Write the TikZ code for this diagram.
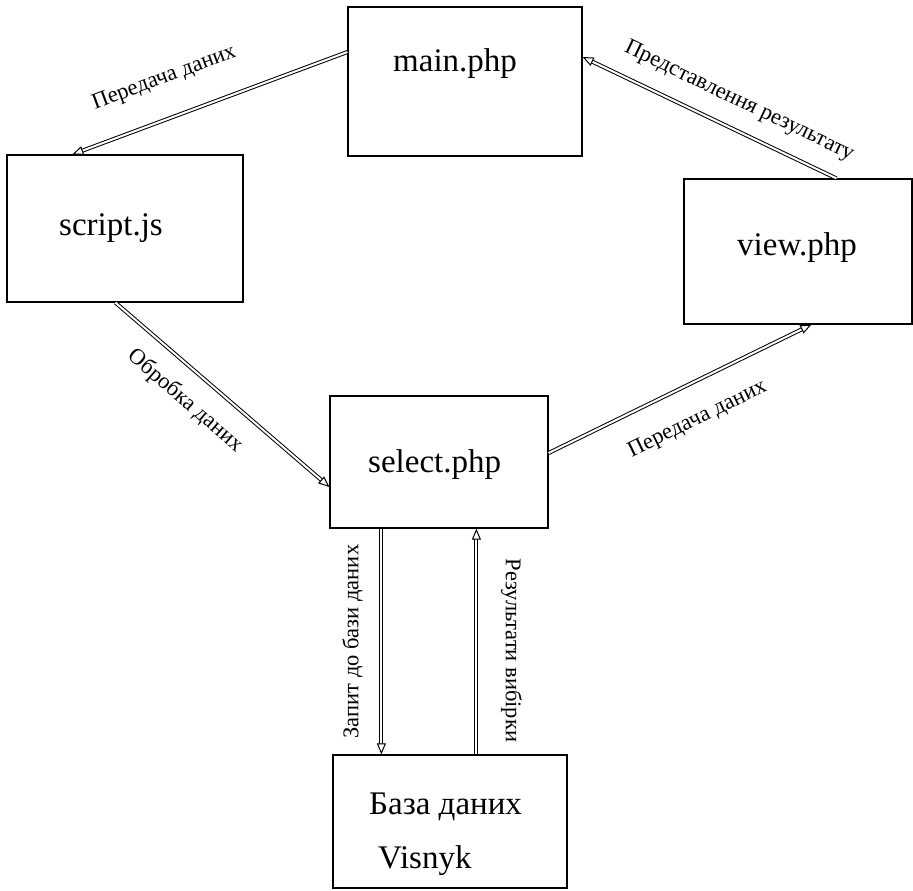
\documentclass[tikz,border=0pt]{standalone}
\usepackage{fontspec}
\setmainfont{Liberation Serif}
\usepackage{tikz}
\usetikzlibrary{arrows.meta,calc}

\tikzset{
	box/.style={draw, line width=1.2pt, rectangle, inner sep=0pt},
	boxtext/.style={anchor=base west, inner sep=0pt, font=\fontsize{33}{36}\selectfont},
	lbl/.style={inner sep=0pt, font=\fontsize{22.5}{25}\selectfont},
	flow/.style={double, double distance=2pt, line width=1pt, -{Triangle[open, length=11pt, width=9pt]}}
}

\begin{document}
\begin{tikzpicture}[x=1pt, y=-1pt]

	\useasboundingbox (0,0) rectangle (913,891);

	\node[box, minimum width=234pt, minimum height=149pt] (main) at (465,81.5) {};
	\node[box, minimum width=236pt, minimum height=147pt] (script) at (125,228.5) {};
	\node[box, minimum width=228pt, minimum height=145pt] (view) at (798,251.5) {};
	\node[box, minimum width=218pt, minimum height=132pt] (select) at (439,462) {};
	\node[box, minimum width=234pt, minimum height=133pt] (db) at (450,821.5) {};

	\node[boxtext] (mainT) at (393,72) {main.php};
	\node[boxtext] (scriptT) at (59,235) {script.js};
	\node[boxtext] (viewT) at (737,255) {view.php};
	\node[boxtext] (selectT) at (368,472) {select.php};
	\node[boxtext] (dbT) at (369,814) {База даних};
	\node[boxtext] (dbN) at (378,868) {Visnyk};

	\draw[flow] ($(main.west)+(0,-29.5)$) -- ($(script.north west)+(66,0)$)
		node[lbl, pos=0.616, sloped, above=29pt] {Передача даних};
	\draw[flow] ($(view.north west)+(153,0)$) -- ($(main.east)+(0,-24.5)$)
		node[lbl, pos=0.43, sloped, above=17pt] {Представлення результату};
	\draw[flow] ($(script.south west)+(109,0)$) -- ($(select.west)+(0,25)$)
		node[lbl, pos=0.414, sloped, below=18pt] {Обробка даних};
	\draw[flow] ($(select.east)+(0,-9)$) -- ($(view.south west)+(128,0)$)
		node[lbl, pos=0.508, sloped, below=25pt] {Передача даних};
	\draw[flow] ($(select.south west)+(52,0)$) -- ($(db.north west)+(49,0)$)
		node[lbl, pos=0.5, xshift=-29pt, rotate=90] {Запит до бази даних};
	\draw[flow] ($(db.north west)+(144,0)$) -- ($(select.south west)+(147,0)$)
		node[lbl, pos=0.46, xshift=35pt, rotate=-90] {Результати вибірки};

\end{tikzpicture}
\end{document}
